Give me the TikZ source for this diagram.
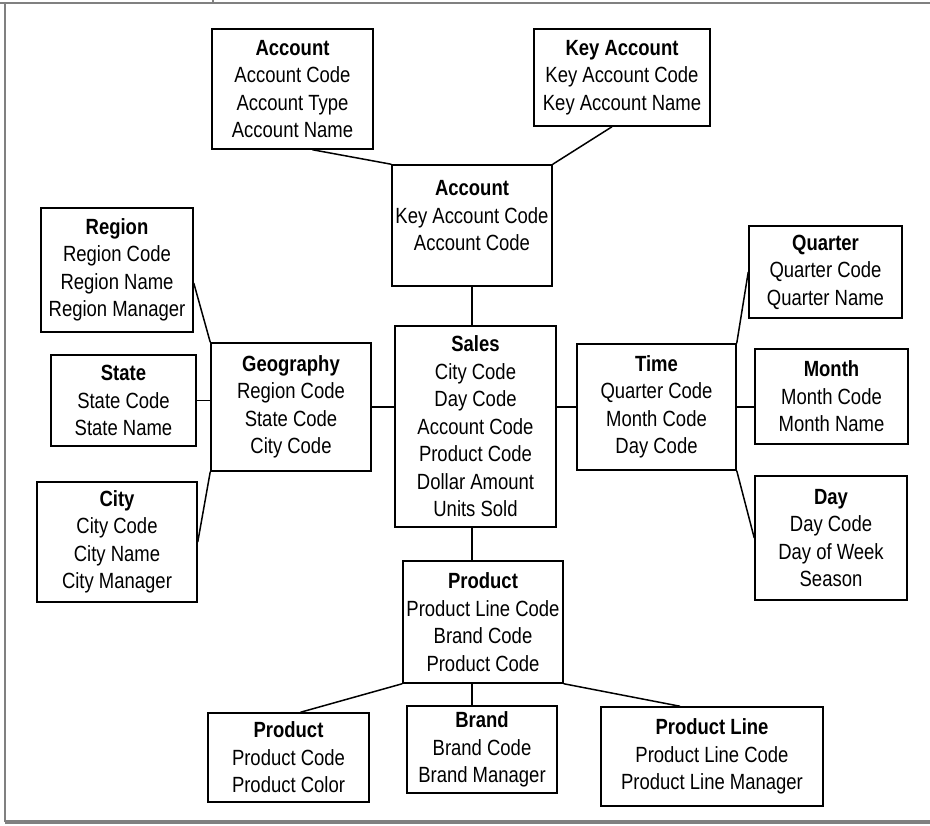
\documentclass[tikz,border=0pt]{standalone}
\usepackage{fontspec}
\setmainfont[FakeStretch=0.84]{Liberation Sans}
\usepackage{tikz}

\begin{document}
\begin{tikzpicture}[x=1pt,y=-1pt]
			\useasboundingbox (0,0) rectangle (930,826);
			% page frame
			\draw [gray, line width=2pt] (0,3) -- (930,3);
			\draw [gray, line width=1.5pt] (213,0) -- (213,3);
			\draw [gray, line width=2.5pt] (5,3) -- (5,822);
			\draw [gray, line width=4pt] (5,822) -- (930,822);

			\begin{scope}[every node/.style={rectangle,draw,line width=1.5pt,align=center,inner sep=0pt,font=\fontsize{22}{27.5}\selectfont}]
				\node [minimum width=161, minimum height=120] (accTop) at (292.5,89) {\textbf{Account}\\Account Code\\Account Type\\Account Name};
				\node [minimum width=176, minimum height=97] (keyAcc) at (622,77.5) {\textbf{Key Account}\\Key Account Code\\Key Account Name};
				\node [minimum width=160, minimum height=121, text depth=20pt] (accMid) at (472,225.5) {\textbf{Account}\\Key Account Code\\Account Code};
				\node [minimum width=161, minimum height=201] (sales) at (475.5,426.5) {\textbf{Sales}\\City Code\\Day Code\\Account Code\\Product Code\\Dollar Amount\\Units Sold};
				\node [minimum width=160, minimum height=128] (geo) at (291,407) {\textbf{Geography}\\Region Code\\State Code\\City Code};
				\node [minimum width=152, minimum height=124] (region) at (117,270) {\textbf{Region}\\Region Code\\Region Name\\Region Manager};
				\node [minimum width=145, minimum height=91] (state) at (123.5,400.5) {\textbf{State}\\State Code\\State Name};
				\node [minimum width=160, minimum height=120] (city) at (117,542) {\textbf{City}\\City Code\\City Name\\City Manager};
				\node [minimum width=159, minimum height=126] (time) at (656.5,407) {\textbf{Time}\\Quarter Code\\Month Code\\Day Code};
				\node [minimum width=153, minimum height=92] (quarter) at (825.5,272) {\textbf{Quarter}\\Quarter Code\\Quarter Name};
				\node [minimum width=153, minimum height=95] (month) at (831.5,396.5) {\textbf{Month}\\Month Code\\Month Name};
				\node [minimum width=152, minimum height=124] (day) at (831,538) {\textbf{Day}\\Day Code\\Day of Week\\Season};
				\node [minimum width=160, minimum height=122] (prodMid) at (483,622) {\textbf{Product}\\Product Line Code\\Brand Code\\Product Code};
				\node [minimum width=161, minimum height=89] (prodBot) at (288.5,757.5) {\textbf{Product}\\Product Code\\Product Color};
				\node [minimum width=150, minimum height=87] (brand) at (482,749.5) {\textbf{Brand}\\Brand Code\\Brand Manager};
				\node [minimum width=222, minimum height=99] (prodLine) at (712,756.5) {\textbf{Product Line}\\Product Line Code\\Product Line Manager};
			\end{scope}

			\begin{scope}[every edge/.style={draw=black,line width=1.5pt}]
				\path ([xshift=20pt]accTop.south) edge (accMid.north west);
				\path ([xshift=-10pt]keyAcc.south) edge (accMid.north east);
				\path (accMid.south) edge (accMid.south |- sales.north);
				\path ([yshift=-13pt]region.east) edge (geo.north west);
				\path (state.east) edge (state.east -| geo.west);
				\path (city.east) edge (geo.south west);
				\path (geo.east) edge (geo.east -| sales.west);
				\path (time.west -| sales.east) edge (time.west);
				\path (quarter.west) edge (time.north east);
				\path (time.east) edge (time.east -| month.west);
				\path (time.south east) edge (day.west);
				\path (accMid.south |- sales.south) edge (accMid.south |- prodMid.north);
				\path (prodMid.south west) edge ([xshift=12pt]prodBot.north);
				\path (accMid.south |- prodMid.south) edge (accMid.south |- brand.north);
				\path (prodMid.south east) edge ([xshift=-32pt]prodLine.north);
			\end{scope}
		\end{tikzpicture}
\end{document}
